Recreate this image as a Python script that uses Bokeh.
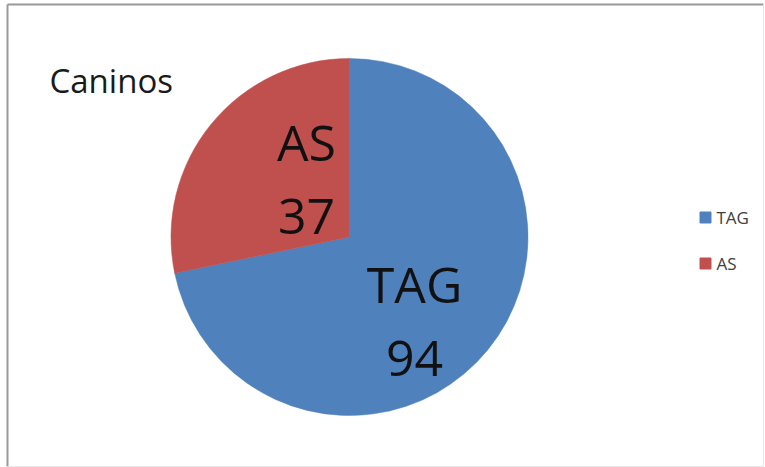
import numpy as np
from bokeh.plotting import figure
from bokeh.models import Range1d, ColumnDataSource
from bokeh.core.properties import value
from bokeh.embed import file_html
from bokeh.resources import INLINE

# Chart data
title_text = "Caninos"
categories = ["TAG", "AS"]
counts = [94, 37]
colors = ["#4F81BD", "#C0504D"]

W, H = 765, 467
FONT = value("Open Sans")


def Y(px):
    """Convert a top-down pixel offset to the upward data axis."""
    return H - px


p = figure(width=W, height=H, x_range=Range1d(0, W), y_range=Range1d(0, H),
           output_backend="svg", toolbar_location=None, min_border=0)
p.axis.visible = False
p.grid.visible = False
p.outline_line_color = None
p.background_fill_color = "white"
p.border_fill_color = "white"

# Chart frame
p.segment(x0=[7, 7], y0=[Y(4), Y(4)], x1=[763, 7], y1=[Y(4), Y(466)],
          line_color="#9a9a9a", line_width=2)
p.segment(x0=[7, 763], y0=[Y(466), Y(4)], x1=[763, 763], y1=[Y(466), Y(466)],
          line_color="#e8e8e8", line_width=1)

# Pie geometry: first slice starts at 12 o'clock, going clockwise
cx, cy, radius = 349, Y(236.5), 178.5
frac = np.array(counts, dtype=float) / sum(counts)
cum = np.concatenate([[0.0], np.cumsum(frac)])
start = np.pi / 2 - 2 * np.pi * cum[:-1]
end = np.pi / 2 - 2 * np.pi * cum[1:]

pie = ColumnDataSource(dict(cat=categories, val=counts, color=colors,
                            start=start, end=end))
p.wedge(x=cx, y=cy, radius=radius, start_angle="start", end_angle="end",
        direction="clock", fill_color="color", line_color="color",
        line_width=0.5, source=pie)

# Slice labels: name on one line, value below
label_x = [414, 306]
name_base = [283, 141]
line_gap = 75
lab = ColumnDataSource(dict(
    x=label_x,
    y_name=[Y(b) for b in name_base],
    y_val=[Y(b + line_gap) for b in name_base],
    name=categories,
    val=[str(v) for v in counts],
))
p.text(x="x", y="y_name", text="name", source=lab, text_font=FONT,
       text_font_size="50px", text_color="#111111", text_align="center",
       text_baseline="alphabetic")
p.text(x="x", y="y_val", text="val", source=lab, text_font=FONT,
       text_font_size="50px", text_color="#111111", text_align="center",
       text_baseline="alphabetic")

# Title
p.text(x=[49], y=[Y(80)], text=[title_text], text_font=FONT,
       text_font_size="33px", text_color="#1a1a1a", text_align="left",
       text_baseline="alphabetic")

# Legend
leg_y = [Y(217), Y(263)]
leg = ColumnDataSource(dict(x=[705] * len(categories), tx=[716] * len(categories),
                            y=leg_y, cat=categories, color=colors))
p.scatter(x="x", y="y", marker="square", size=11, fill_color="color",
          line_color="color", source=leg)
p.text(x="tx", y="y", text="cat", source=leg, text_font=FONT,
       text_font_size="17px", text_color="#404040", text_align="left",
       text_baseline="middle")

open("out.html", "w").write(file_html(p, INLINE))
